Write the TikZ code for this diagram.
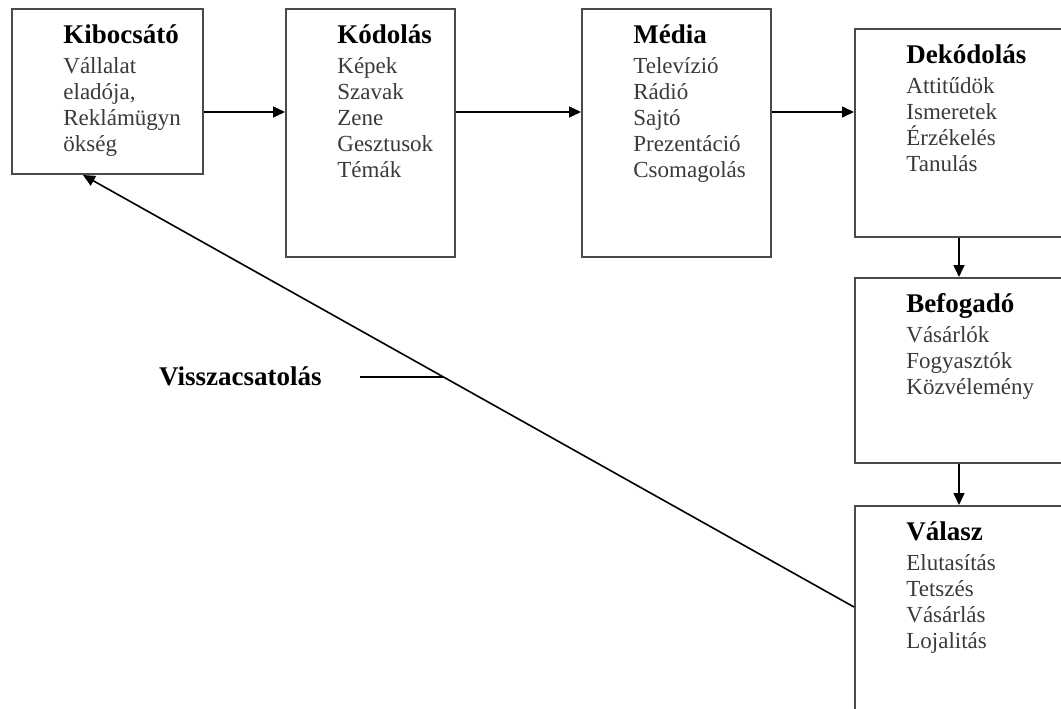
\documentclass[tikz,border=0pt]{standalone}
\usepackage{fontspec}
\setmainfont{Liberation Serif}
\usetikzlibrary{positioning, arrows.meta}

\newcommand{\fej}[1]{{\fontsize{13.5}{13}\selectfont\bfseries\color{black}#1}}

\begin{document}
\begin{tikzpicture}[x=0.5pt, y=-0.5pt,
		doboz/.style={draw=keret, line width=1pt, rectangle, inner sep=0pt, anchor=north west},
		felirat/.style={below right=8pt and 26pt of #1, inner sep=0pt, align=left, text=szoveg, font=\fontsize{11.5}{13}\selectfont},
		nyil/.style={draw=black, line width=0.8pt, -{Triangle[length=6pt, width=5.5pt]}}]
		\definecolor{keret}{HTML}{4A4A4A}
		\definecolor{szoveg}{HTML}{3A3A3A}
		\useasboundingbox (0,0) rectangle (1061,708);
		\clip (0,0) rectangle (1061,708);
		% dobozok
		\node[doboz, minimum width=95.5pt, minimum height=82.5pt] (kibocsato) at (11,8) {};
		\node[doboz, minimum width=84.5pt, minimum height=124pt] (kodolas) at (285,8) {};
		\node[doboz, minimum width=94.5pt, minimum height=124pt] (media) at (581,8) {};
		\node[doboz, minimum width=110.5pt, minimum height=104pt] (dekodolas) at (854,28) {};
		\node[doboz, minimum width=110.5pt, minimum height=92.5pt] (befogado) at (854,277) {};
		\node[doboz, minimum width=110.5pt, minimum height=107.5pt] (valasz) at (854,505) {};
		% szovegek
		\node[felirat=kibocsato.north west] (t1) {\fej{Kibocsátó}\\[2pt]Vállalat\\eladója,\\Reklámügyn\\ökség};
		\node[felirat=kodolas.north west] (t2) {\fej{Kódolás}\\[2pt]Képek\\Szavak\\Zene\\Gesztusok\\Témák};
		\node[felirat=media.north west] (t3) {\fej{Média}\\[2pt]Televízió\\Rádió\\Sajtó\\Prezentáció\\Csomagolás};
		\node[felirat=dekodolas.north west] (t4) {\fej{Dekódolás}\\[2pt]Attitűdök\\Ismeretek\\Érzékelés\\Tanulás};
		\node[felirat=befogado.north west] (t5) {\fej{Befogadó}\\[2pt]Vásárlók\\Fogyasztók\\Közvélemény};
		\node[felirat=valasz.north west] (t6) {\fej{Válasz}\\[2pt]Elutasítás\\Tetszés\\Vásárlás\\Lojalitás};
		% nyilak
		\coordinate (sor) at (0,112);
		\coordinate (oszlop) at (959,0);
		\draw[nyil] (kibocsato.east |- sor) -- (kodolas.west |- sor);
		\draw[nyil] (kodolas.east |- sor) -- (media.west |- sor);
		\draw[nyil] (media.east |- sor) -- (dekodolas.west |- sor);
		\draw[nyil] (dekodolas.south -| oszlop) -- (befogado.north -| oszlop);
		\draw[nyil] (befogado.south -| oszlop) -- (valasz.north -| oszlop);
		% visszacsatolas
		\draw[nyil] (valasz.west |- 0,607) -- coordinate[pos=0.533] (metszes) (kibocsato.south -| 83,0);
		\draw[line width=0.8pt] (metszes) -- ++(-83,0) coordinate (vonalveg);
		\node[left=19pt of vonalveg, inner sep=0pt, font=\fontsize{13.5}{13}\selectfont\bfseries] (visszacs) {Visszacsatolás};
	\end{tikzpicture}
\end{document}
